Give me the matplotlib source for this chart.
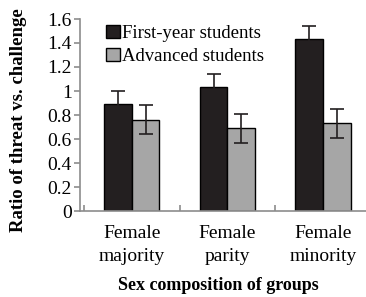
import matplotlib
matplotlib.use("Agg")
import matplotlib.pyplot as plt
import numpy as np

groups = ["Female\nmajority", "Female\nparity", "Female\nminority"]
first_year = [0.89, 1.03, 1.43]
first_year_err = [0.11, 0.11, 0.11]
advanced = [0.76, 0.69, 0.73]
advanced_err = [0.12, 0.12, 0.12]

plt.rcParams["font.family"] = ["Liberation Serif", "DejaVu Serif"]

W, H = 366, 297
fig = plt.figure(figsize=(W / 100, H / 100), dpi=100)
ax = fig.add_axes([80 / W, 1 - 211 / H, 291 / W, 192 / H])

x = np.arange(len(groups))
width = 0.29
axis_grey = "#8c8c8c"

ax.bar(x - width / 2, first_year, width, yerr=first_year_err, color="#231f20",
       edgecolor="black", linewidth=1, label="First-year students",
       error_kw=dict(ecolor="#231f20", capsize=5, elinewidth=1.2, capthick=1.2))
ax.bar(x + width / 2, advanced, width, yerr=advanced_err, color="#a6a6a6",
       edgecolor="black", linewidth=1, label="Advanced students",
       error_kw=dict(ecolor="#231f20", capsize=5, elinewidth=1.2, capthick=1.2))

ax.set_xlim(-0.54, 2.5)
ax.set_ylim(0, 1.6)
ax.set_yticks(np.arange(0, 1.61, 0.2))
ax.set_yticklabels(["0", "0.2", "0.4", "0.6", "0.8", "1", "1.2", "1.4", "1.6"])
ax.set_xticks(x)
ax.set_xticklabels(groups, linespacing=1.5)
ax.set_xticks([-0.5, 0.5, 1.5], minor=True)

for s in ["top", "right"]:
    ax.spines[s].set_visible(False)
for s in ["left", "bottom"]:
    ax.spines[s].set_color(axis_grey)
    ax.spines[s].set_linewidth(1.2)

ax.tick_params(axis="y", labelsize=14, color=axis_grey, length=4, width=1.2, pad=2)
ax.tick_params(axis="x", which="major", labelsize=14, length=0, pad=10)
ax.tick_params(axis="x", which="minor", color=axis_grey, length=4, width=1.2, direction="in")

# axis titles placed in figure pixels
fig.text(19 / W, 1 - 120 / H, "Ratio of threat vs. challenge", rotation=90,
         ha="center", va="center", fontsize=13.5, fontweight="bold")
fig.text(218 / W, 1 - 286 / H, "Sex composition of groups",
         ha="center", va="center", fontsize=13, fontweight="bold")

ax.legend(loc="upper left", bbox_to_anchor=(0.065, 1.008), frameon=False, fontsize=13.5,
          handlelength=0.7, handleheight=0.7, handletextpad=0.15, labelspacing=0.3,
          borderaxespad=0)

fig.savefig("out.png", dpi=100)
